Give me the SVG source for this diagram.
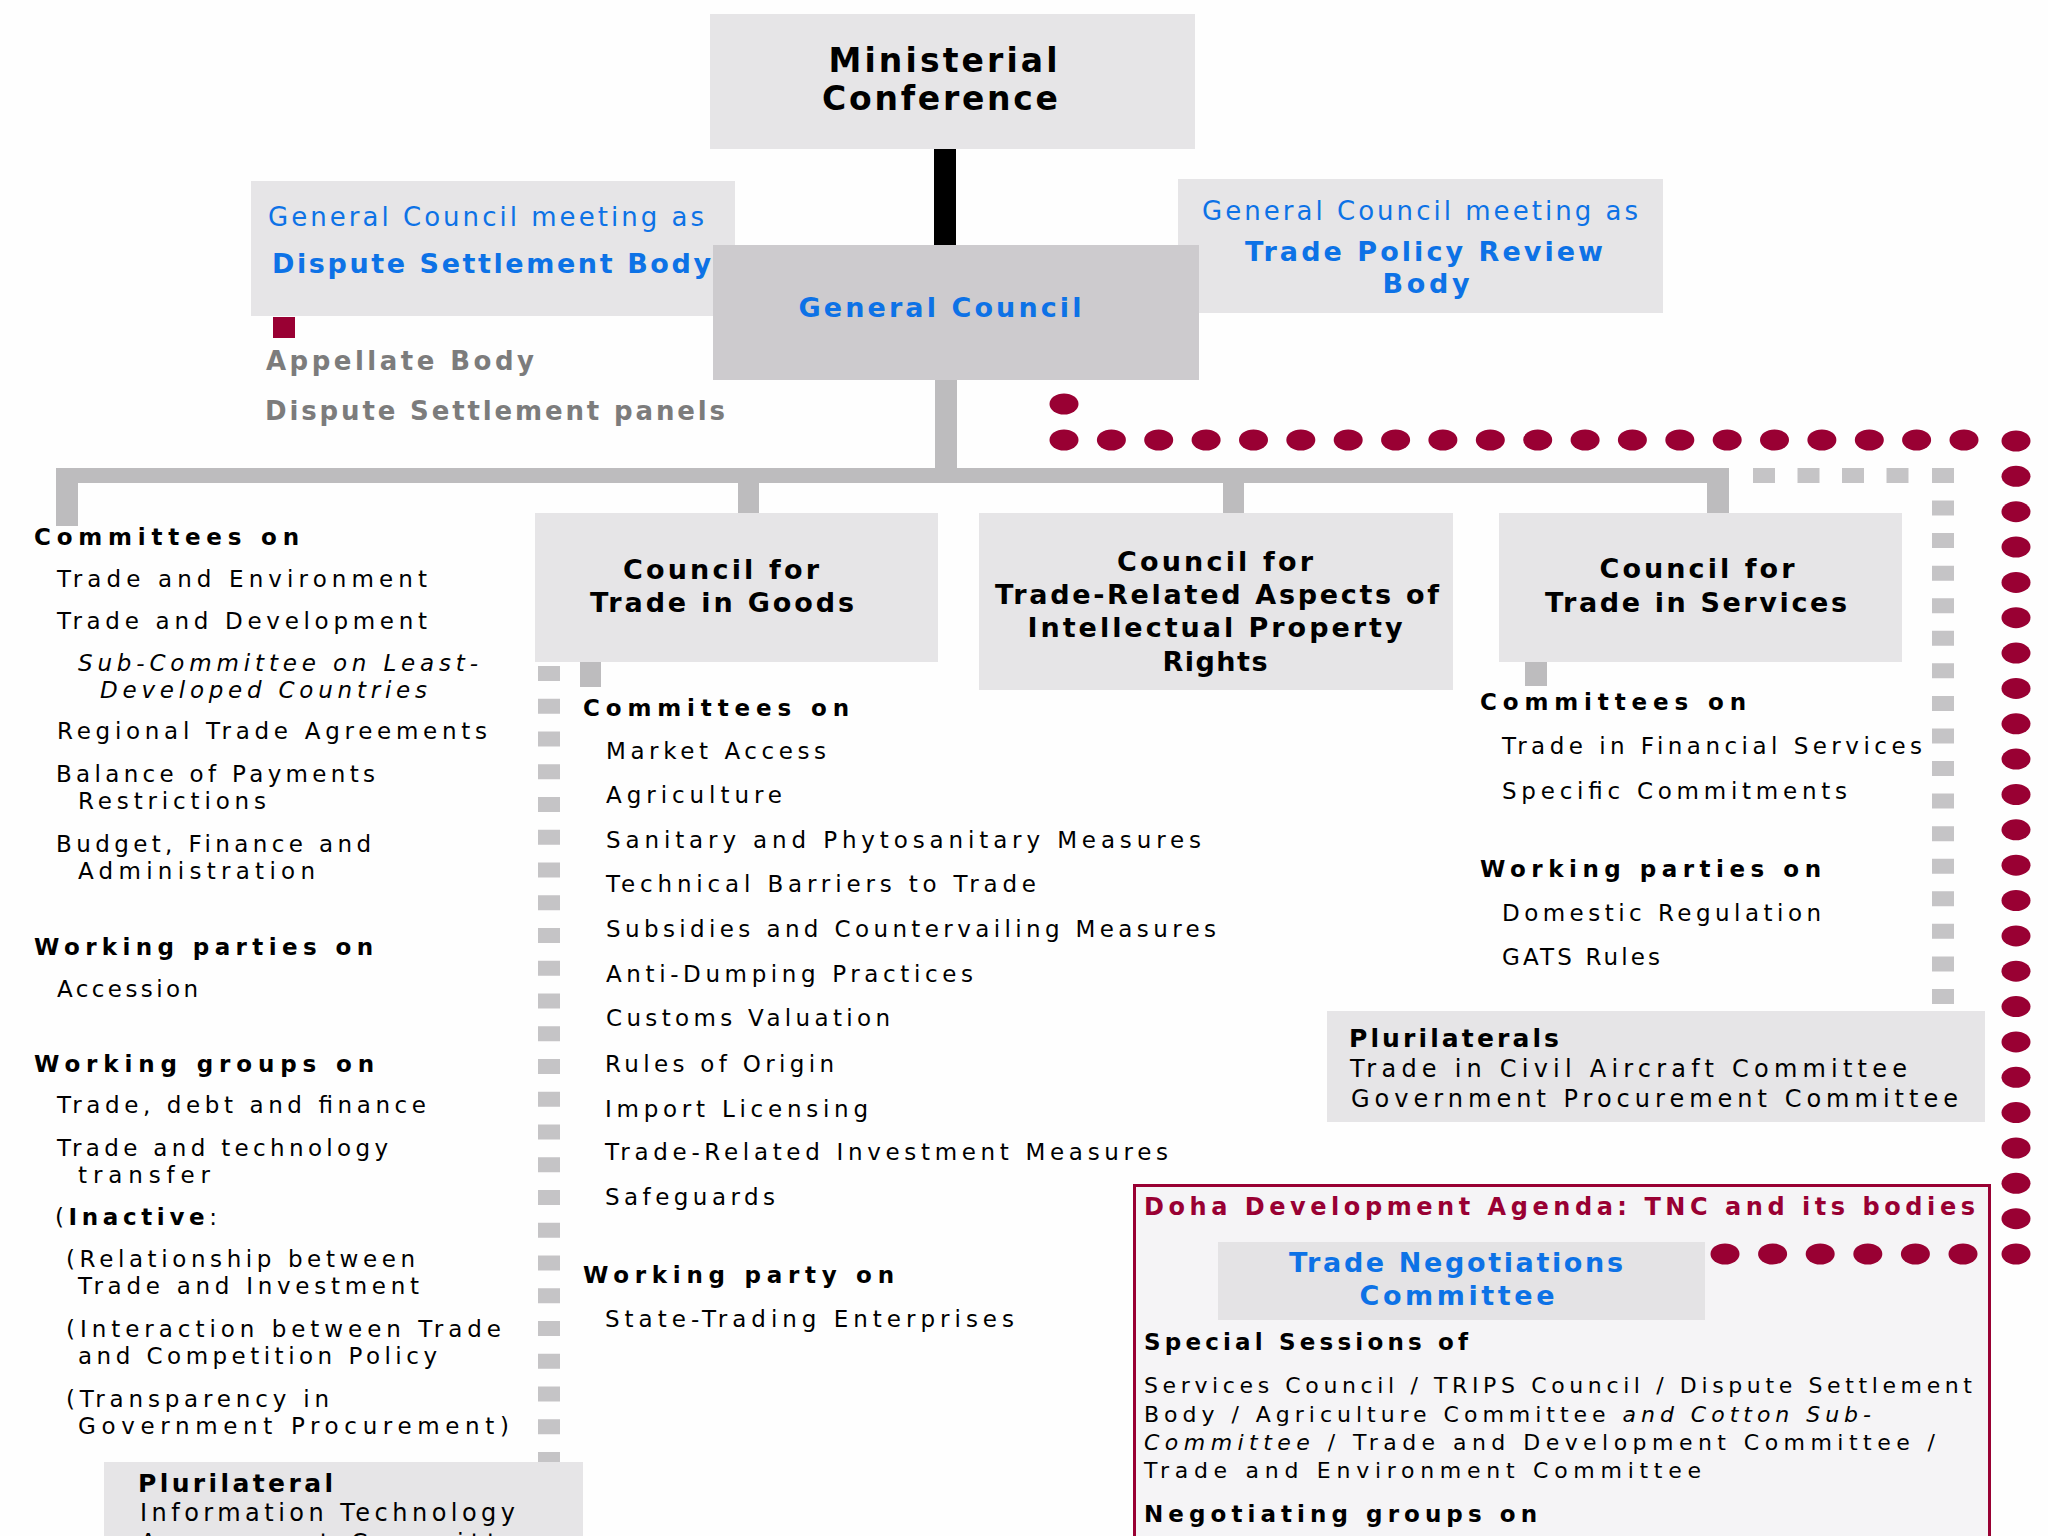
<svg xmlns="http://www.w3.org/2000/svg" width="2048" height="1536" viewBox="0 0 2048 1536">
<defs>
<style>
text{font-family:"DejaVu Sans","Liberation Sans",sans-serif;}
.box{fill:#e6e5e7;}
.gcbox{fill:#cdcbce;}
.con{fill:#bdbcbe;}
.it{font-size:23px;fill:#000;}
.hd{font-size:23px;font-weight:bold;fill:#000;}
.bt{font-size:27px;font-weight:bold;fill:#000;text-anchor:middle;}
.mc{font-size:33px;font-weight:bold;fill:#000;text-anchor:middle;}
.bl{font-size:26px;fill:#0d72e6;}
.blb{font-size:27px;font-weight:bold;fill:#0d72e6;}
.gy{font-size:26px;font-weight:bold;fill:#7c7c7c;}
.dh{font-size:22px;fill:#000;}
.dhb{font-size:23px;font-weight:bold;fill:#000;}
.dt{font-size:24px;font-weight:bold;fill:#990033;}
.pl{font-size:24px;fill:#000;}
.plb{font-size:25px;font-weight:bold;fill:#000;}
.i{font-style:italic;}
.b{font-weight:bold;}
.mid{text-anchor:middle;}
</style>
<ellipse id="dot" cx="0" cy="0" rx="14.5" ry="10.5" fill="#990033"/>
</defs>
<rect x="0" y="0" width="2048" height="1536" fill="#fefefe"/>

<g id="doha">
<rect x="1134.5" y="1185.5" width="855" height="400" fill="#f5f4f6" stroke="#990033" stroke-width="3"/>
<text class="dt" x="1144" y="1215" textLength="831" lengthAdjust="spacing">Doha Development Agenda: TNC and its bodies</text>
<rect x="1218" y="1242" width="487" height="78" fill="#e4e3e5"/>
<text class="blb mid" x="1456" y="1272" textLength="334" lengthAdjust="spacing">Trade Negotiations</text>
<text class="blb mid" x="1457" y="1305" textLength="195" lengthAdjust="spacing">Committee</text>
<text class="dhb" x="1144" y="1350" textLength="324" lengthAdjust="spacing">Special Sessions of</text>
<text class="dh" x="1144" y="1393" textLength="828" lengthAdjust="spacing">Services Council / TRIPS Council / Dispute Settlement</text>
<text class="dh" x="1144" y="1422" textLength="727" lengthAdjust="spacing">Body / Agriculture Committee <tspan class="i">and Cotton Sub-</tspan></text>
<text class="dh" x="1144" y="1450" textLength="791" lengthAdjust="spacing"><tspan class="i">Committee</tspan> / Trade and Development Committee /</text>
<text class="dh" x="1144" y="1478" textLength="557" lengthAdjust="spacing">Trade and Environment Committee</text>
<text class="dhb" x="1144" y="1522" textLength="393" lengthAdjust="spacing">Negotiating groups on</text>
</g>

<g id="connectors">
<rect x="934" y="149" width="22" height="96" fill="#000"/>
<rect class="con" x="935" y="380" width="22" height="88"/>
<rect class="con" x="56" y="468" width="1673" height="15"/>
<rect class="con" x="56" y="468" width="22" height="58"/>
<rect class="con" x="738" y="468" width="21" height="45"/>
<rect class="con" x="1223" y="468" width="21" height="45"/>
<rect class="con" x="1707" y="468" width="22" height="45"/>
<rect class="con" x="580" y="662" width="21" height="25"/>
<rect class="con" x="1525" y="662" width="22" height="24"/>
<rect x="273" y="317" width="22" height="21" fill="#990033"/>
<line x1="549" y1="666" x2="549" y2="1462" stroke="#c5c4c6" stroke-width="22" stroke-dasharray="15 17.75"/>
<line x1="1753" y1="475.5" x2="1920" y2="475.5" stroke="#c5c4c6" stroke-width="15" stroke-dasharray="22 22.5"/>
<line x1="1943" y1="468" x2="1943" y2="1004" stroke="#c5c4c6" stroke-width="22" stroke-dasharray="15 17.56"/>
<g id="dots">
<use href="#dot" x="1064" y="404"/>
<use href="#dot" x="1064" y="440"/><use href="#dot" x="1111.4" y="440"/><use href="#dot" x="1158.7" y="440"/><use href="#dot" x="1206.1" y="440"/><use href="#dot" x="1253.5" y="440"/>
<use href="#dot" x="1300.8" y="440"/><use href="#dot" x="1348.2" y="440"/><use href="#dot" x="1395.6" y="440"/><use href="#dot" x="1442.9" y="440"/><use href="#dot" x="1490.3" y="440"/>
<use href="#dot" x="1537.7" y="440"/><use href="#dot" x="1585.1" y="440"/><use href="#dot" x="1632.4" y="440"/><use href="#dot" x="1679.8" y="440"/><use href="#dot" x="1727.2" y="440"/>
<use href="#dot" x="1774.5" y="440"/><use href="#dot" x="1821.9" y="440"/><use href="#dot" x="1869.3" y="440"/><use href="#dot" x="1916.6" y="440"/><use href="#dot" x="1964" y="440"/>
<use href="#dot" x="2016" y="441"/><use href="#dot" x="2016" y="476.3"/><use href="#dot" x="2016" y="511.7"/><use href="#dot" x="2016" y="547"/><use href="#dot" x="2016" y="582.4"/>
<use href="#dot" x="2016" y="617.7"/><use href="#dot" x="2016" y="653.1"/><use href="#dot" x="2016" y="688.4"/><use href="#dot" x="2016" y="723.8"/><use href="#dot" x="2016" y="759.1"/>
<use href="#dot" x="2016" y="794.5"/><use href="#dot" x="2016" y="829.8"/><use href="#dot" x="2016" y="865.2"/><use href="#dot" x="2016" y="900.5"/><use href="#dot" x="2016" y="935.9"/>
<use href="#dot" x="2016" y="971.2"/><use href="#dot" x="2016" y="1006.6"/><use href="#dot" x="2016" y="1041.9"/><use href="#dot" x="2016" y="1077.3"/><use href="#dot" x="2016" y="1112.6"/>
<use href="#dot" x="2016" y="1148"/><use href="#dot" x="2016" y="1183.3"/><use href="#dot" x="2016" y="1218.7"/><use href="#dot" x="2016" y="1254"/>
<use href="#dot" x="1725" y="1254"/><use href="#dot" x="1772.6" y="1254"/><use href="#dot" x="1820.2" y="1254"/><use href="#dot" x="1867.8" y="1254"/><use href="#dot" x="1915.4" y="1254"/><use href="#dot" x="1963" y="1254"/>
</g>
</g>

<g id="ministerial">
<rect class="box" x="710" y="14" width="485" height="135"/>
<text class="mc" x="943" y="72" textLength="229" lengthAdjust="spacing">Ministerial</text>
<text class="mc" x="940" y="110" textLength="236" lengthAdjust="spacing">Conference</text>
</g>

<g id="dsb">
<rect class="box" x="251" y="181" width="484" height="135"/>
<text class="bl" x="268" y="226" textLength="436" lengthAdjust="spacing">General Council meeting as</text>
<text class="blb" x="272" y="273" textLength="439" lengthAdjust="spacing">Dispute Settlement Body</text>
</g>

<g id="tprb">
<rect class="box" x="1178" y="179" width="485" height="134"/>
<text class="bl" x="1202" y="220" textLength="436" lengthAdjust="spacing">General Council meeting as</text>
<text class="blb mid" x="1424" y="261" textLength="358" lengthAdjust="spacing">Trade Policy Review</text>
<text class="blb mid" x="1426" y="293" textLength="87" lengthAdjust="spacing">Body</text>
</g>

<g id="general-council">
<rect class="gcbox" x="713" y="245" width="486" height="135"/>
<text class="blb mid" x="940" y="317" textLength="283" lengthAdjust="spacing">General Council</text>
</g>

<g id="appellate">
<text class="gy" x="266" y="370" textLength="268" lengthAdjust="spacing">Appellate Body</text>
<text class="gy" x="265" y="420" textLength="460" lengthAdjust="spacing">Dispute Settlement panels</text>
</g>

<g id="gc-committees">
<text class="hd" x="34" y="545" textLength="265" lengthAdjust="spacing">Committees on</text>
<text class="it" x="57" y="587" textLength="370" lengthAdjust="spacing">Trade and Environment</text>
<text class="it" x="57" y="629" textLength="370" lengthAdjust="spacing">Trade and Development</text>
<text class="it i" x="78" y="671" textLength="400" lengthAdjust="spacing">Sub-Committee on Least-</text>
<text class="it i" x="100" y="698" textLength="327" lengthAdjust="spacing">Developed Countries</text>
<text class="it" x="57" y="739" textLength="430" lengthAdjust="spacing">Regional Trade Agreements</text>
<text class="it" x="56" y="782" textLength="319" lengthAdjust="spacing">Balance of Payments</text>
<text class="it" x="78" y="809" textLength="188" lengthAdjust="spacing">Restrictions</text>
<text class="it" x="56" y="852" textLength="315" lengthAdjust="spacing">Budget, Finance and</text>
<text class="it" x="78" y="879" textLength="237" lengthAdjust="spacing">Administration</text>
<text class="hd" x="34" y="955" textLength="339" lengthAdjust="spacing">Working parties on</text>
<text class="it" x="57" y="997" textLength="141" lengthAdjust="spacing">Accession</text>
<text class="hd" x="34" y="1072" textLength="340" lengthAdjust="spacing">Working groups on</text>
<text class="it" x="57" y="1113" textLength="369" lengthAdjust="spacing">Trade, debt and finance</text>
<text class="it" x="57" y="1156" textLength="331" lengthAdjust="spacing">Trade and technology</text>
<text class="it" x="78" y="1183" textLength="132" lengthAdjust="spacing">transfer</text>
<text class="it" x="55" y="1225" textLength="162" lengthAdjust="spacing">(<tspan class="b">Inactive</tspan>:</text>
<text class="it" x="66" y="1267" textLength="349" lengthAdjust="spacing">(Relationship between</text>
<text class="it" x="78" y="1294" textLength="341" lengthAdjust="spacing">Trade and Investment</text>
<text class="it" x="66" y="1337" textLength="435" lengthAdjust="spacing">(Interaction between Trade</text>
<text class="it" x="78" y="1364" textLength="359" lengthAdjust="spacing">and Competition Policy</text>
<text class="it" x="66" y="1407" textLength="263" lengthAdjust="spacing">(Transparency in</text>
<text class="it" x="78" y="1434" textLength="431" lengthAdjust="spacing">Government Procurement)</text>
</g>

<g id="goods">
<rect class="box" x="535" y="513" width="403" height="149"/>
<text class="bt" x="721" y="579" textLength="196" lengthAdjust="spacing">Council for</text>
<text class="bt" x="722" y="612" textLength="264" lengthAdjust="spacing">Trade in Goods</text>
</g>
<g id="goods-committees">
<text class="hd" x="583" y="716" textLength="266" lengthAdjust="spacing">Committees on</text>
<text class="it" x="606" y="759" textLength="220" lengthAdjust="spacing">Market Access</text>
<text class="it" x="606" y="803" textLength="176" lengthAdjust="spacing">Agriculture</text>
<text class="it" x="606" y="848" textLength="595" lengthAdjust="spacing">Sanitary and Phytosanitary Measures</text>
<text class="it" x="606" y="892" textLength="430" lengthAdjust="spacing">Technical Barriers to Trade</text>
<text class="it" x="606" y="937" textLength="610" lengthAdjust="spacing">Subsidies and Countervailing Measures</text>
<text class="it" x="606" y="982" textLength="367" lengthAdjust="spacing">Anti-Dumping Practices</text>
<text class="it" x="606" y="1026" textLength="284" lengthAdjust="spacing">Customs Valuation</text>
<text class="it" x="605" y="1072" textLength="229" lengthAdjust="spacing">Rules of Origin</text>
<text class="it" x="605" y="1117" textLength="263" lengthAdjust="spacing">Import Licensing</text>
<text class="it" x="605" y="1160" textLength="563" lengthAdjust="spacing">Trade-Related Investment Measures</text>
<text class="it" x="605" y="1205" textLength="170" lengthAdjust="spacing">Safeguards</text>
<text class="hd" x="583" y="1283" textLength="311" lengthAdjust="spacing">Working party on</text>
<text class="it" x="605" y="1327" textLength="409" lengthAdjust="spacing">State-Trading Enterprises</text>
</g>

<g id="trips">
<rect class="box" x="979" y="513" width="474" height="177"/>
<text class="bt" x="1215" y="571" textLength="196" lengthAdjust="spacing">Council for</text>
<text class="bt" x="1217" y="604" textLength="444" lengthAdjust="spacing">Trade-Related Aspects of</text>
<text class="bt" x="1215" y="637" textLength="375" lengthAdjust="spacing">Intellectual Property</text>
<text class="bt" x="1215" y="671" textLength="105" lengthAdjust="spacing">Rights</text>
</g>

<g id="services">
<rect class="box" x="1499" y="513" width="403" height="149"/>
<text class="bt" x="1697" y="578" textLength="195" lengthAdjust="spacing">Council for</text>
<text class="bt" x="1696" y="612" textLength="302" lengthAdjust="spacing">Trade in Services</text>
</g>
<g id="services-committees">
<text class="hd" x="1480" y="710" textLength="266" lengthAdjust="spacing">Committees on</text>
<text class="it" x="1502" y="754" textLength="420" lengthAdjust="spacing">Trade in Financial Services</text>
<text class="it" x="1502" y="799" textLength="345" lengthAdjust="spacing">Specific Commitments</text>
<text class="hd" x="1480" y="877" textLength="341" lengthAdjust="spacing">Working parties on</text>
<text class="it" x="1502" y="921" textLength="319" lengthAdjust="spacing">Domestic Regulation</text>
<text class="it" x="1502" y="965" textLength="158" lengthAdjust="spacing">GATS Rules</text>
</g>

<g id="plurilaterals">
<rect class="box" x="1327" y="1011" width="658" height="111"/>
<text class="plb" x="1349" y="1047" textLength="210" lengthAdjust="spacing">Plurilaterals</text>
<text class="pl" x="1350" y="1077" textLength="557" lengthAdjust="spacing">Trade in Civil Aircraft Committee</text>
<text class="pl" x="1351" y="1107" textLength="607" lengthAdjust="spacing">Government Procurement Committee</text>
</g>

<g id="plurilateral-ita">
<rect class="box" x="104" y="1462" width="479" height="100"/>
<text class="plb" x="138" y="1492" textLength="195" lengthAdjust="spacing">Plurilateral</text>
<text class="pl" x="140" y="1521" textLength="375" lengthAdjust="spacing">Information Technology</text>
<text class="pl" x="140" y="1551" textLength="400" lengthAdjust="spacing">Agreement Committee</text>
</g>
</svg>
